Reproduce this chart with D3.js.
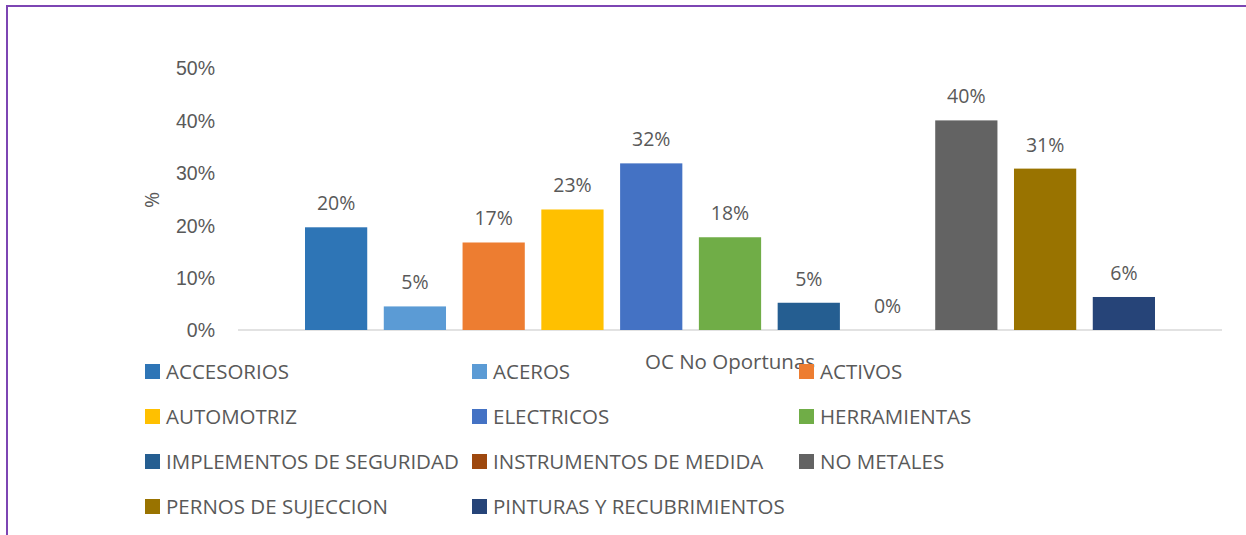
<!DOCTYPE html>
<html lang="es">
<head>
<meta charset="utf-8">
<title>OC No Oportunas</title>
<style>
  body { margin: 0; background: #fff; }
  svg { display: block; font-family: 'Open Sans', sans-serif; }
  text { fill: #595959; }
  .axis path, .axis line { display: none; }
  .axis text { font-size: 19.5px; fill: #595959; }
</style>
</head>
<body>
<svg width="1246" height="535"></svg>
<script src="https://d3js.org/d3.v7.min.js"></script>
<script>
// data
var category = 'OC No Oportunas';
var series = ['ACCESORIOS', 'ACEROS', 'ACTIVOS', 'AUTOMOTRIZ', 'ELECTRICOS', 'HERRAMIENTAS',
  'IMPLEMENTOS DE SEGURIDAD', 'INSTRUMENTOS DE MEDIDA', 'NO METALES', 'PERNOS DE SUJECCION',
  'PINTURAS Y RECUBRIMIENTOS'];
var values = [19.6, 4.5, 16.7, 23.0, 31.8, 17.7, 5.2, 0, 40.0, 30.8, 6.3];
var colors = ['#2e75b6', '#5b9bd5', '#ed7d31', '#ffc000', '#4472c4', '#70ad47',
  '#255e91', '#9e480e', '#636363', '#997300', '#264478'];
var yTicks = [0, 10, 20, 30, 40, 50];

var svg = d3.select('svg');

// purple frame (top + left edge)
svg.append('line').attr('x1', 6).attr('x2', 1246).attr('y1', 6).attr('y2', 6)
  .attr('stroke', '#7d45b3').attr('stroke-width', 2);
svg.append('line').attr('x1', 7).attr('x2', 7).attr('y1', 5).attr('y2', 535)
  .attr('stroke', '#7d45b3').attr('stroke-width', 2);

var plotL = 238, plotR = 1222, plotT = 68, plotB = 330;

var x0 = d3.scaleBand().domain([category]).range([plotL, plotR]);
var x1 = d3.scaleBand().domain(series)
  .range([67, x0.bandwidth() - 67])
  .paddingInner(0.21);
var y = d3.scaleLinear().domain([0, 50]).range([plotB, plotT]);

// y axis
svg.append('g')
  .attr('class', 'axis')
  .attr('transform', `translate(${plotL - 8}, 0)`)
  .call(d3.axisLeft(y).tickValues(yTicks).tickFormat(d => d + '%').tickSize(0).tickPadding(15))
  .call(g => g.selectAll('text').attr('dy', '0.35em'));

// baseline
svg.append('line')
  .attr('x1', plotL).attr('x2', plotR)
  .attr('y1', y(0)).attr('y2', y(0))
  .attr('stroke', '#d9d9d9').attr('stroke-width', 1.5);

var grp = svg.append('g').attr('transform', `translate(${x0(category)}, 0)`);

grp.selectAll('rect')
  .data(values)
  .enter()
  .append('rect')
  .attr('x', (d, i) => x1(series[i]))
  .attr('y', d => y(d))
  .attr('width', x1.bandwidth())
  .attr('height', d => y(0) - y(d))
  .style('fill', (d, i) => colors[i]);

grp.selectAll('text.value')
  .data(values)
  .enter()
  .append('text')
  .attr('class', 'value')
  .attr('x', (d, i) => x1(series[i]) + x1.bandwidth() / 2)
  .attr('y', d => y(d) - 17)
  .attr('text-anchor', 'middle')
  .style('font-size', '19.5px')
  .text(d => Math.round(d) + '%');

// y title
svg.append('text')
  .attr('transform', 'translate(159, 200) rotate(-90)')
  .attr('text-anchor', 'middle')
  .style('font-size', '19.5px')
  .text('%');

// category label
svg.append('text')
  .attr('x', x0(category) + x0.bandwidth() / 2)
  .attr('y', 369)
  .attr('text-anchor', 'middle')
  .style('font-size', '20.5px')
  .text(category);

// legend
var legCols = [145, 472, 799];
var legRows = [371.5, 416.5, 461.5, 506.5];
var leg = svg.append('g');
series.forEach(function (s, i) {
  var cx = legCols[i % 3], cy = legRows[Math.floor(i / 3)];
  leg.append('rect').attr('x', cx).attr('y', cy - 7.5).attr('width', 15).attr('height', 15)
    .style('fill', colors[i]);
  leg.append('text').attr('x', cx + 21).attr('y', cy).attr('dy', '0.36em')
    .style('font-size', '20.5px')
    .text(s);
});
</script>
</body>
</html>
